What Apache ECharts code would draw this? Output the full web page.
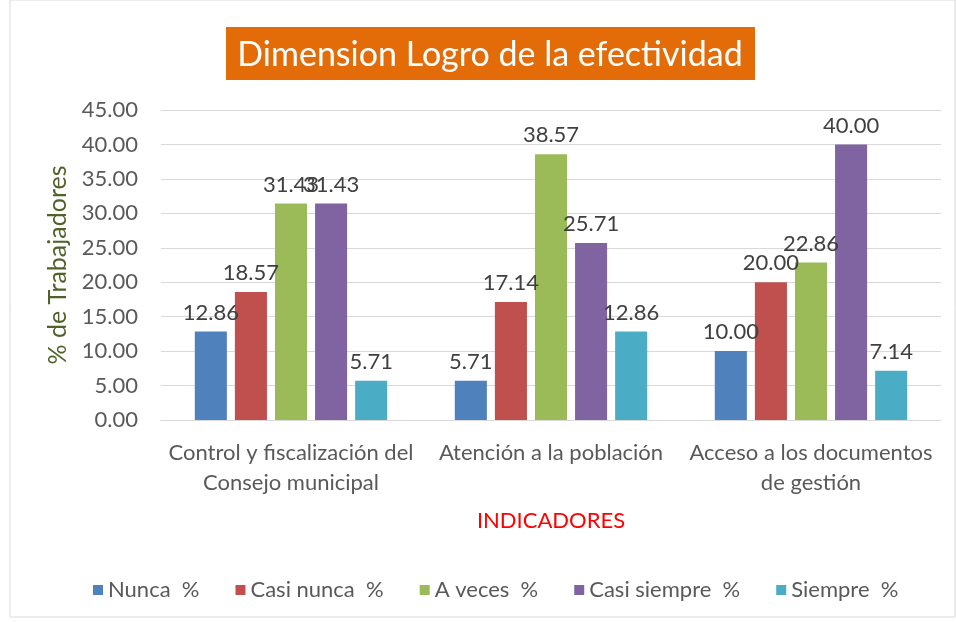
<!DOCTYPE html>
<html>
<head>
<meta charset="utf-8">
<script src="https://cdn.jsdelivr.net/npm/echarts@6/dist/echarts.min.js"></script>
<style>
  html, body { margin: 0; padding: 0; background: #fff; }
  #main { width: 956px; height: 622px; }
</style>
</head>
<body>
<div id="main"></div>
<script>
// datos del grafico
let categorias = ['Control y fiscalización del\nConsejo municipal', 'Atención a la población', 'Acceso a los documentos\nde gestión']
let nombres = ['Nunca  %', 'Casi nunca  %', 'A veces  %', 'Casi siempre  %', 'Siempre  %']
let nunca = [12.86, 5.71, 10.00]
let casiNunca = [18.57, 17.14, 20.00]
let aVeces = [31.43, 38.57, 22.86]
let casiSiempre = [31.43, 25.71, 40.00]
let siempre = [5.71, 12.86, 7.14]
let colores = ['#4f81bd', '#c0504d', '#9bbb59', '#8064a2', '#4bacc6']

let valores = [nunca, casiNunca, aVeces, casiSiempre, siempre]
let fuente = 'Lato, "Open Sans", sans-serif'

let myChart = echarts.init(document.getElementById('main'))

let series = valores.map((v, i) => {
    return {
        name: nombres[i],
        type: 'bar',
        data: v,
        barGap: '25%',
        barCategoryGap: '26%',
        itemStyle: { color: colores[i] },
        label: {
            show: true,
            position: 'top',
            distance: 8,
            formatter: p => p.value.toFixed(2),
            fontFamily: fuente,
            fontSize: 22,
            color: '#404040'
        }
    }
})

myChart.setOption({
    textStyle: { fontFamily: fuente },
    color: colores,
    graphic: [
        {
            type: 'rect',
            shape: { x: 10, y: 0, width: 945, height: 617 },
            style: { fill: 'none', stroke: '#d9d9d9', lineWidth: 1 },
            silent: true
        },
        {
            type: 'rect',
            shape: { x: 226, y: 27, width: 529, height: 53 },
            style: { fill: '#e36c09' },
            silent: true
        },
        {
            type: 'text',
            x: 490, y: 55,
            style: {
                text: 'Dimension Logro de la efectividad',
                fill: '#fff',
                font: '34px ' + fuente,
                align: 'center',
                verticalAlign: 'middle'
            },
            silent: true
        }
    ],
    grid: {
        left: 161,
        right: 15,
        top: 110,
        bottom: 202,
        containLabel: false
    },
    legend: {
        bottom: 16,
        left: 88,
        itemWidth: 10,
        itemHeight: 10,
        itemGap: 36,
        icon: 'rect',
        textStyle: { fontSize: 22, color: '#595959', fontFamily: fuente },
        data: nombres
    },
    xAxis: {
        type: 'category',
        data: categorias,
        name: 'INDICADORES',
        nameLocation: 'middle',
        nameGap: 90,
        nameTextStyle: { color: '#ff0000', fontSize: 22, fontFamily: fuente },
        axisTick: { show: false },
        axisLine: { lineStyle: { color: '#d9d9d9' } },
        axisLabel: {
            interval: 0,
            fontSize: 22,
            color: '#595959',
            margin: 18,
            lineHeight: 30,
            fontFamily: fuente
        }
    },
    yAxis: {
        type: 'value',
        min: 0,
        max: 45,
        interval: 5,
        name: '% de Trabajadores',
        nameLocation: 'middle',
        nameGap: 81,
        nameTextStyle: { color: '#4f6228', fontSize: 25, fontFamily: fuente },
        axisLabel: {
            formatter: v => v.toFixed(2),
            fontSize: 22,
            color: '#595959',
            margin: 23,
            fontFamily: fuente
        },
        splitLine: { lineStyle: { color: '#d9d9d9' } },
        axisLine: { show: false },
        axisTick: { show: false }
    },
    series: series
})
</script>
</body>
</html>
